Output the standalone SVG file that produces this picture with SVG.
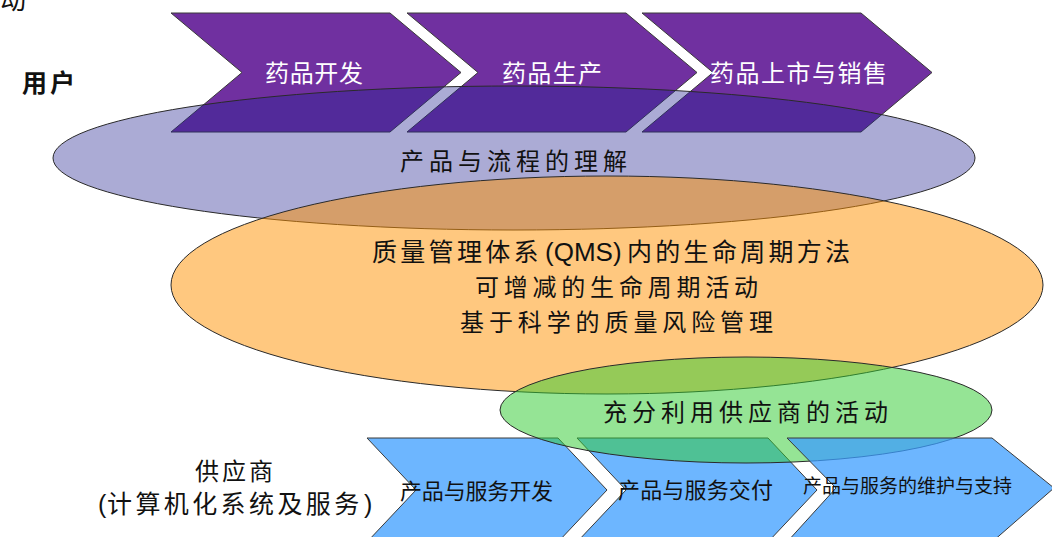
<svg xmlns="http://www.w3.org/2000/svg" width="1052" height="537" viewBox="0 0 1052 537">
  <style>
    text { font-family: "Noto Sans CJK SC", "Liberation Sans", sans-serif; }
    .lat { font-family: "Liberation Sans", Arial, sans-serif; }
    .purple { fill: #7030A0; stroke: #3a3a3a; stroke-width: 1; }
    .blue { fill: #6DB6FF; stroke: #3a3a3a; stroke-width: 1; }
    .blue3 { fill: rgb(60,158,255); fill-opacity: 0.75; stroke: #3a3a3a; stroke-width: 1; }
    .lav { fill: rgb(33,33,144); fill-opacity: 0.38; stroke: #2a2a2a; stroke-width: 1; }
    .orange { fill: rgb(255,145,0); fill-opacity: 0.5; stroke: #2a2a2a; stroke-width: 1; }
    .green { fill: rgb(52,203,52); fill-opacity: 0.52; stroke: #2a2a2a; stroke-width: 1; }
    .wt { fill: #ffffff; font-size: 24px; }
    .bk { fill: #111111; }
  </style>
  <rect x="0" y="0" width="1052" height="537" fill="#ffffff"/>

  <text class="bk" x="0" y="9" font-size="26">动</text>
  <g id="label-user">
    <text class="bk" x="22" y="92" font-size="25" font-weight="bold" textLength="53" lengthAdjust="spacing">用户</text>
  </g>

  <g id="chevron-dev">
    <path class="purple" d="M171,13 L390,13 L461,72.5 L390,132 L171,132 L242,72.5 Z"/>
  </g>
  <g id="chevron-prod">
    <path class="purple" d="M407,13 L626,13 L697,72.5 L626,132 L407,132 L478,72.5 Z"/>
  </g>
  <g id="chevron-market">
    <path class="purple" d="M642,13 L861,13 L932,72.5 L861,132 L642,132 L713,72.5 Z"/>
  </g>

  <g id="schev-dev">
    <path class="blue" d="M367,438 L558,438 L607,490 L558,542 L367,542 L416,490 Z"/>
  </g>
  <g id="schev-deliver">
    <path class="blue" d="M577,438 L768,438 L817,490 L768,542 L577,542 L626,490 Z"/>
  </g>

  <g id="ellipse-understanding">
    <ellipse class="lav" cx="514" cy="158" rx="461" ry="72"/>
  </g>
  <g id="ellipse-qms">
    <ellipse class="orange" cx="607" cy="285" rx="436" ry="109"/>
  </g>
  <g id="ellipse-supplier">
    <ellipse class="green" cx="746" cy="410" rx="246" ry="53"/>
  </g>
  <g id="schev-maint">
    <path class="blue3" d="M787,438 L992,438 L1054,488 L992,542 L787,542 L836,488 Z"/>
  </g>

  <g id="texts">
    <text class="wt" x="265" y="82" textLength="98" lengthAdjust="spacing">药品开发</text>
    <text class="wt" x="502" y="82" textLength="100" lengthAdjust="spacing">药品生产</text>
    <text class="wt" x="710" y="82" textLength="177" lengthAdjust="spacing">药品上市与销售</text>

    <text class="bk" x="400" y="170" font-size="24" textLength="227" lengthAdjust="spacing">产品与流程的理解</text>

    <text class="bk" y="261" font-size="25"><tspan x="372" letter-spacing="3.3">质量管理体系</tspan><tspan class="lat" x="545" font-size="26">(QMS)</tspan><tspan x="627" letter-spacing="3.3">内的生命周期方法</tspan></text>
    <text class="bk" x="475" y="296" font-size="24" textLength="283" lengthAdjust="spacing">可增减的生命周期活动</text>
    <text class="bk" x="460" y="331" font-size="24" textLength="313" lengthAdjust="spacing">基于科学的质量风险管理</text>

    <text class="bk" x="603" y="421" font-size="24" textLength="285" lengthAdjust="spacing">充分利用供应商的活动</text>

    <text class="bk" x="195" y="480" font-size="24" textLength="78" lengthAdjust="spacing">供应商</text>
    <text class="bk" y="513" font-size="25"><tspan class="lat" x="98">(</tspan><tspan x="107" letter-spacing="3.4">计算机化系统及服务</tspan><tspan class="lat" x="364">)</tspan></text>

    <text class="bk" x="400" y="499" font-size="22" textLength="153" lengthAdjust="spacing">产品与服务开发</text>
    <text class="bk" x="618" y="498" font-size="22" textLength="155" lengthAdjust="spacing">产品与服务交付</text>
    <text class="bk" x="803" y="493" font-size="19" textLength="209" lengthAdjust="spacing">产品与服务的维护与支持</text>
  </g>
  <g id="connectors"/>
</svg>
